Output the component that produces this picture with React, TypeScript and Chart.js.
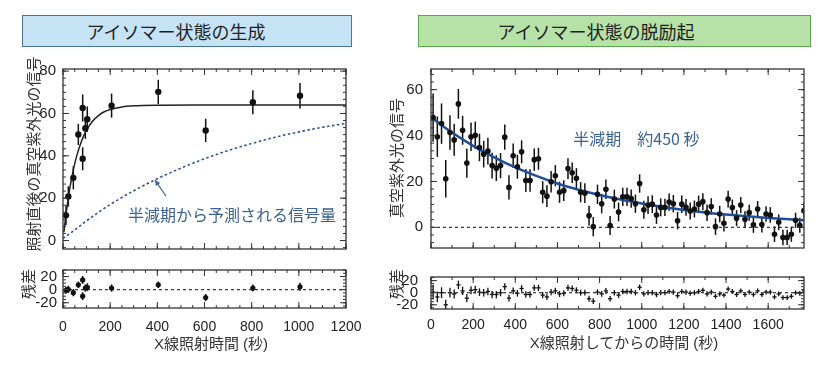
import React, { useEffect, useRef } from "react";
import { Chart, registerables } from "chart.js";

Chart.register(...registerables);

const FONT_NUM = "'Liberation Sans', Arial, sans-serif";
const FONT_JP = "'Noto Sans CJK JP', 'Noto Sans', sans-serif";

// ---------------- Left panel: growth (アイソマー状態の生成) ----------------
const growthTime = [12.7, 22.6, 43.8, 65, 83.4, 83.4, 94.7, 103, 206, 404, 605, 805, 1005];
const growthSignal = [11.9, 20.8, 29.6, 50.1, 62.6, 38.6, 53, 57.3, 63.7, 70.2, 52, 65.3, 68.4];
const growthErr = [4.6, 4.8, 5.4, 5.0, 6.4, 5.4, 5.0, 6.0, 5.7, 5.7, 5.5, 5.7, 6.0];
const growthResid = [-0.9, 0.5, -4.6, 7.4, 14.8, -9.9, 2.5, 3.7, 2.5, 7.4, -12, 2.5, 4.4];
const growthResidErr = [5.5, 5.5, 5.5, 5, 6, 6, 5.5, 6, 5.5, 5, 5.5, 5.5, 6];

const growthFitTime = [4, 10, 20, 30, 45, 60, 80, 100, 125, 150, 175, 200, 250, 300, 400, 600, 800, 1000, 1200];
const growthFitSignal = [4, 10, 18.3, 25.4, 34.1, 40.7, 47.4, 52.1, 56.3, 59, 60.8, 61.9, 63.1, 63.6, 63.9, 64, 64, 64, 64];

const halfLifeTime = [0, 50, 100, 150, 200, 300, 400, 500, 600, 700, 800, 900, 1000, 1100, 1200];
const halfLifeSignal = [1, 5, 9.3, 13.3, 17, 23.5, 29.2, 34.2, 38.6, 42.5, 45.8, 48.8, 51.3, 53.5, 55.3];

// ---------------- Right panel: decay (アイソマー状態の脱励起) ----------------
const decayTime = [
  10, 30, 50, 70, 90, 110, 130, 150, 170, 190,
  210, 230, 250, 270, 290, 310, 330, 350, 370, 390,
  410, 430, 450, 470, 490, 510, 530, 550, 570, 590,
  610, 630, 650, 670, 690, 710, 730, 750, 770, 790,
  810, 830, 850, 870, 890, 910, 930, 950, 970, 990,
  1010, 1030, 1050, 1070, 1090, 1110, 1130, 1150, 1170, 1190,
  1210, 1230, 1250, 1270, 1290, 1310, 1330, 1350, 1370, 1390,
  1410, 1430, 1450, 1470, 1490, 1510, 1530, 1550, 1570, 1590,
  1610, 1630, 1650, 1670, 1690, 1710, 1730, 1750, 1770,
];
const decaySignal = [
  47.8, 39.5, 45.2, 21.2, 41.3, 38.1, 53.8, 42.3, 28.0, 39.5,
  40.1, 34.8, 31.9, 33.2, 26.9, 25.8, 26.9, 39.3, 17.4, 31.2,
  26.4, 32.9, 20.4, 20.4, 29.5, 29.9, 15.3, 13.6, 19.9, 22.5,
  15.3, 16.0, 25.6, 23.8, 21.4, 15.3, 14.9, 5.1, 0.3, 14.4,
  10.3, 16.6, 0.8, 12.3, 6.7, 13.3, 13.3, 12.5, 10.3, 19.1,
  7.7, 9.7, 10.1, 5.4, 8.7, 8.7, 11.0, 10.3, 2.9, 10.1,
  8.7, 7.1, 8.0, 10.1, 11.2, 6.4, 9.1, 0.3, 5.8, 1.8,
  12.3, 8.6, 4.0, 9.7, 3.5, 6.4, 1.1, 8.0, 1.2, 5.8,
  5.4, -3.0, 2.2, -4.4, -4.4, -3.0, 3.1, 0.9, 7.3,
];
const decayErr = [
  10.5, 8.8, 8.8, 8.2, 7.5, 6.9, 6.5, 6.3, 6.4, 6.2,
  6.0, 6.0, 5.8, 5.8, 5.6, 5.6, 5.5, 5.5, 5.3, 5.3,
  5.2, 5.0, 5.0, 4.9, 4.9, 4.8, 4.8, 4.7, 4.7, 4.6,
  4.6, 4.5, 4.5, 4.5, 4.4, 4.4, 4.3, 4.3, 4.2, 4.2,
  4.2, 4.2, 4.1, 4.1, 4.1, 4.0, 4.0, 4.0, 4.0, 4.0,
  3.9, 3.9, 3.9, 3.9, 3.9, 3.8, 3.8, 3.8, 3.8, 3.8,
  3.7, 3.7, 3.7, 3.7, 3.7, 3.6, 3.6, 3.6, 3.6, 3.6,
  3.6, 3.5, 3.5, 3.5, 3.5, 3.5, 3.5, 3.5, 3.4, 3.4,
  3.4, 3.4, 3.4, 3.4, 3.3, 3.3, 3.3, 3.3, 3.3,
];
const decayResid = [
  1, -7, 0, -20, 0, -2, 13, 3, -9, 4,
  5, 1, 0, 2, -3, -3, 0, 10, -9, 3,
  -1, 7, -3, -3, 8, 8, -4, -7, 1, 3,
  -2, -1, 8, 7, 4, 0, 0, -10, -14, 1,
  -2, 3, -10, 0, -4, 2, 2, 2, 0, 9,
  -2, 0, 0, -3, 0, 0, 2, 1, -5, 2,
  1, -1, 0, 2, 4, -2, 1, -6, -2, -4,
  6, 2, -3, 3, -3, 1, -3, 3, -3, 1,
  1, -7, -2, -8, -8, -6, 0, -1, 3,
];
const decayResidErr = [
  12, 9, 9, 8.5, 8, 7.5, 7, 7, 6.8, 6.6,
  6.4, 6.3, 6.2, 6.1, 6, 6, 5.9, 5.8, 5.7, 5.6,
  5.5, 5.5, 5.4, 5.4, 5.3, 5.3, 5.2, 5.2, 5.1, 5.1,
  5, 5, 5, 4.9, 4.9, 4.9, 4.8, 4.8, 4.8, 4.7,
  4.7, 4.7, 4.6, 4.6, 4.6, 4.6, 4.5, 4.5, 4.5, 4.5,
  4.5, 4.4, 4.4, 4.4, 4.4, 4.4, 4.3, 4.3, 4.3, 4.3,
  4.3, 4.2, 4.2, 4.2, 4.2, 4.2, 4.2, 4.1, 4.1, 4.1,
  4.1, 4.1, 4.1, 4, 4, 4, 4, 4, 4, 4,
  4, 4, 3.9, 3.9, 3.9, 3.9, 3.9, 3.9, 3.9,
];
const decayBinHalfWidth = 10;

const decayFitTime = [0, 100, 200, 300, 400, 500, 600, 700, 800, 900, 1000, 1100, 1200, 1300, 1400, 1500, 1600, 1700, 1770];
const decayFitSignal = [48, 41.3, 35.5, 30.5, 26.1, 22.4, 19.1, 16.4, 14.1, 12.1, 10.4, 8.9, 7.6, 6.5, 5.6, 4.8, 4.1, 3.5, 3.1];

// axis ranges / tick labels
const growthXRange = [0, 1200];
const growthYRange = [-4, 81];
const growthResidRange = [-28, 30];
const decayXRange = [0, 1770];
const decayYRange = [-9, 69];
const decayResidRange = [-27, 26];
const growthXTicks = [0, 200, 400, 600, 800, 1000, 1200];
const decayXTicks = [0, 200, 400, 600, 800, 1000, 1200, 1400, 1600];
const growthYTicks = [0, 20, 40, 60, 80];
const decayYTicks = [0, 20, 40, 60];
const residTicks = [-20, 0, 20];

// annotations (data units)
const growthNoteText = "半減期から予測される信号量";
const growthNotePos = [276, 12.3];
const growthArrow = [437, 20.9, 390, 28.6];
const decayNoteText = "半減期　約450 秒";
const decayNotePos = [675, 38.4];

// ---------------- plugins ----------------
const errorBarPlugin = {
  id: "errorBars",
  beforeDatasetsDraw(chart: any) {
    const { ctx, chartArea: a } = chart;
    const xs = chart.scales.x;
    const ys = chart.scales.y;
    ctx.save();
    ctx.beginPath();
    ctx.rect(a.left, a.top, a.right - a.left, a.bottom - a.top);
    ctx.clip();
    chart.data.datasets.forEach((ds: any) => {
      if (!ds.errY && !ds.errX) return;
      ctx.strokeStyle = "#111";
      ctx.lineWidth = ds.errWidth || 1.5;
      ds.data.forEach((p: any, i: number) => {
        const px = xs.getPixelForValue(p.x);
        const py = ys.getPixelForValue(p.y);
        if (ds.errY) {
          const e = Array.isArray(ds.errY) ? ds.errY[i] : ds.errY;
          ctx.beginPath();
          ctx.moveTo(px, ys.getPixelForValue(p.y - e));
          ctx.lineTo(px, ys.getPixelForValue(p.y + e));
          ctx.stroke();
        }
        if (ds.errX) {
          const e = Array.isArray(ds.errX) ? ds.errX[i] : ds.errX;
          ctx.beginPath();
          ctx.moveTo(xs.getPixelForValue(p.x - e), py);
          ctx.lineTo(xs.getPixelForValue(p.x + e), py);
          ctx.stroke();
        }
      });
    });
    ctx.restore();
  },
};

function makeFramePlugin(xMajor: number, xMinor: number, yMajor: number, yMinor: number) {
  return {
    id: "frameTicks",
    afterDatasetsDraw(chart: any) {
      const { ctx, chartArea: a } = chart;
      const xs = chart.scales.x;
      const ys = chart.scales.y;
      const seg = (x1: number, y1: number, x2: number, y2: number) => {
        ctx.beginPath();
        ctx.moveTo(x1, y1);
        ctx.lineTo(x2, y2);
        ctx.stroke();
      };
      const vals = (min: number, max: number, step: number) => {
        const out: number[] = [];
        const n0 = Math.ceil(min / step - 1e-6);
        for (let n = n0; n * step <= max + 1e-6; n++) out.push(n * step);
        return out;
      };
      ctx.save();
      ctx.strokeStyle = "#333";
      ctx.lineWidth = 1;
      const defs: [number, number][] = [
        [xMinor, 3],
        [xMajor, 6],
      ];
      for (const [step, len] of defs) {
        for (const v of vals(xs.min, xs.max, step)) {
          const p = xs.getPixelForValue(v);
          seg(p, a.bottom, p, a.bottom - len);
          seg(p, a.top, p, a.top + len);
        }
      }
      const ydefs: [number, number][] = [
        [yMinor, 3],
        [yMajor, 6],
      ];
      for (const [step, len] of ydefs) {
        for (const v of vals(ys.min, ys.max, step)) {
          const p = ys.getPixelForValue(v);
          seg(a.left, p, a.left + len, p);
          seg(a.right, p, a.right - len, p);
        }
      }
      ctx.lineWidth = 1.3;
      ctx.strokeRect(a.left, a.top, a.right - a.left, a.bottom - a.top);
      ctx.restore();
    },
  };
}

function makeNotesPlugin(text: string, pos: number[], arrow: number[] | null, color: string) {
  return {
    id: "notes",
    afterDatasetsDraw(chart: any) {
      const { ctx } = chart;
      const xs = chart.scales.x;
      const ys = chart.scales.y;
      ctx.save();
      ctx.font = `16px ${FONT_JP}`;
      ctx.fillStyle = color;
      ctx.textAlign = "left";
      ctx.textBaseline = "middle";
      ctx.fillText(text, xs.getPixelForValue(pos[0]), ys.getPixelForValue(pos[1]));
      if (arrow) {
        const x1 = xs.getPixelForValue(arrow[0]);
        const y1 = ys.getPixelForValue(arrow[1]);
        const x2 = xs.getPixelForValue(arrow[2]);
        const y2 = ys.getPixelForValue(arrow[3]);
        ctx.strokeStyle = color;
        ctx.lineWidth = 1.2;
        ctx.beginPath();
        ctx.moveTo(x1, y1);
        ctx.lineTo(x2, y2);
        ctx.stroke();
        const ang = Math.atan2(y2 - y1, x2 - x1);
        const h = 6;
        ctx.beginPath();
        ctx.moveTo(x2, y2);
        ctx.lineTo(x2 - h * Math.cos(ang - 0.45), y2 - h * Math.sin(ang - 0.45));
        ctx.lineTo(x2 - h * Math.cos(ang + 0.45), y2 - h * Math.sin(ang + 0.45));
        ctx.closePath();
        ctx.fill();
      }
      ctx.restore();
    },
  };
}

// ---------------- helpers ----------------
function yScale(range: number[], tickVals: number[], pad: number, width: number, size: number) {
  return {
    type: "linear",
    position: "left",
    min: range[0],
    max: range[1],
    grid: { display: false, drawTicks: false },
    border: { display: false },
    afterBuildTicks: (s: any) => {
      s.ticks = tickVals.map((v) => ({ value: v }));
    },
    ticks: {
      autoSkip: false,
      padding: pad,
      color: "#222",
      font: { family: FONT_NUM, size },
      callback: (v: any) => String(v),
    },
    afterFit: (s: any) => {
      s.width = width;
    },
  };
}

function xScale(range: number[], tickVals: number[], show: boolean, pad: number, height: number) {
  return {
    type: "linear",
    position: "bottom",
    display: show,
    min: range[0],
    max: range[1],
    grid: { display: false, drawTicks: false },
    border: { display: false },
    afterBuildTicks: (s: any) => {
      s.ticks = tickVals.map((v) => ({ value: v }));
    },
    ticks: {
      autoSkip: false,
      maxRotation: 0,
      minRotation: 0,
      padding: pad,
      color: "#222",
      font: { family: FONT_NUM, size: 14 },
      callback: (v: any) => String(v),
    },
    afterFit: (s: any) => {
      s.height = height;
    },
  };
}

function pts(xs: number[], ys: number[]) {
  return xs.map((x, i) => ({ x, y: ys[i] }));
}

function zeroLine(range: number[]) {
  return {
    type: "line",
    data: [
      { x: range[0], y: 0 },
      { x: range[1], y: 0 },
    ],
    borderColor: "#333",
    borderWidth: 1.2,
    borderDash: [3, 3],
    pointRadius: 0,
  };
}

function build(canvas: HTMLCanvasElement, datasets: any[], scales: any, padding: any, plugins: any[]) {
  return new Chart(canvas, {
    type: "scatter",
    data: { datasets },
    options: {
      responsive: false,
      animation: false,
      events: [],
      layout: { padding },
      plugins: { legend: { display: false }, tooltip: { enabled: false } },
      scales,
    },
    plugins,
  } as any);
}

type Spec = { left: number; top: number; width: number; height: number; make: (c: HTMLCanvasElement) => Chart };

const specs: Spec[] = [
  {
    left: 0,
    top: 53,
    width: 356,
    height: 212,
    make: (c) =>
      build(
        c,
        [
          { type: "scatter", data: pts(growthTime, growthSignal), errY: growthErr, pointRadius: 3.2, backgroundColor: "#111", borderWidth: 0 },
          { type: "line", data: pts(growthFitTime, growthFitSignal), borderColor: "#222", borderWidth: 1.5, pointRadius: 0, cubicInterpolationMode: "monotone" },
          { type: "line", data: pts(halfLifeTime, halfLifeSignal), borderColor: "#2f5597", borderWidth: 1.6, borderDash: [2.5, 2.5], pointRadius: 0, cubicInterpolationMode: "monotone" },
        ],
        { x: xScale(growthXRange, growthXTicks, false, 0, 0), y: yScale(growthYRange, growthYTicks, 7, 63, 15) },
        { top: 10, right: 10, bottom: 4, left: 0 },
        [errorBarPlugin, makeFramePlugin(200, 50, 20, 20 / 6), makeNotesPlugin(growthNoteText, growthNotePos, growthArrow, "#3a6190")]
      ),
  },
  {
    left: 0,
    top: 255,
    width: 376,
    height: 85,
    make: (c) =>
      build(
        c,
        [
          { type: "scatter", data: pts(growthTime, growthResid), errY: growthResidErr, pointRadius: 2.6, backgroundColor: "#111", borderWidth: 0 },
          zeroLine(growthXRange),
        ],
        { x: xScale(growthXRange, growthXTicks, true, 11, 32), y: yScale(growthResidRange, residTicks, 6, 63, 15) },
        { top: 6, right: 30, bottom: 0, left: 0 },
        [errorBarPlugin, makeFramePlugin(200, 50, 20, 5)]
      ),
  },
  {
    left: 380,
    top: 52,
    width: 434,
    height: 213,
    make: (c) =>
      build(
        c,
        [
          { type: "scatter", data: pts(decayTime, decaySignal), errY: decayErr, pointRadius: 2.8, backgroundColor: "#111", borderWidth: 0 },
          { type: "line", data: pts(decayFitTime, decayFitSignal), borderColor: "#1f4e9a", borderWidth: 2.5, pointRadius: 0, cubicInterpolationMode: "monotone" },
          zeroLine(decayXRange),
        ],
        { x: xScale(decayXRange, decayXTicks, false, 0, 0), y: yScale(decayYRange, decayYTicks, 8, 51, 15) },
        { top: 10, right: 10, bottom: 4, left: 0 },
        [errorBarPlugin, makeFramePlugin(200, 100, 20, 20 / 6), makeNotesPlugin(decayNoteText, decayNotePos, null, "#3a6190")]
      ),
  },
  {
    left: 380,
    top: 255,
    width: 434,
    height: 85,
    make: (c) =>
      build(
        c,
        [
          { type: "scatter", data: pts(decayTime, decayResid), errY: decayResidErr, errX: decayBinHalfWidth, errWidth: 1.3, pointRadius: 0, borderWidth: 0 },
          zeroLine(decayXRange),
        ],
        { x: xScale(decayXRange, decayXTicks, true, 8, 31), y: yScale(decayResidRange, residTicks, 13, 51, 15) },
        { top: 6, right: 10, bottom: 0, left: 0 },
        [errorBarPlugin, makeFramePlugin(200, 100, 20, 5)]
      ),
  },
];

function ChartBox({ spec }: { spec: Spec }) {
  const ref = useRef<HTMLCanvasElement>(null);
  useEffect(() => {
    const chart = spec.make(ref.current as HTMLCanvasElement);
    return () => chart.destroy();
  }, []);
  return (
    <canvas
      ref={ref}
      width={spec.width}
      height={spec.height}
      style={{ position: "absolute", left: spec.left, top: spec.top, width: spec.width, height: spec.height }}
    />
  );
}

function VText({ x, y, text }: { x: number; y: number; text: string }) {
  return (
    <div
      style={{
        position: "absolute",
        left: x,
        top: y,
        transform: "translate(-50%, -50%) rotate(-90deg)",
        whiteSpace: "nowrap",
        font: `15px ${FONT_JP}`,
        lineHeight: "15px",
        color: "#333",
        zIndex: 2,
      }}
    >
      {text}
    </div>
  );
}

function HText({ x, y, text }: { x: number; y: number; text: string }) {
  return (
    <div
      style={{
        position: "absolute",
        left: x,
        top: y,
        transform: "translate(-50%, -50%)",
        whiteSpace: "nowrap",
        fontFamily: `'Liberation Sans', 'Noto Sans CJK JP', sans-serif`,
        fontSize: 15,
        lineHeight: "15px",
        color: "#333",
        zIndex: 2,
      }}
    >
      {text}
    </div>
  );
}

function TitleBox({ left, width, bg, border, shift, text }: any) {
  return (
    <div
      style={{
        position: "absolute",
        left,
        top: 15,
        width,
        height: 32,
        boxSizing: "border-box",
        background: bg,
        border: `1.5px solid ${border}`,
        display: "flex",
        alignItems: "center",
        justifyContent: "center",
        paddingRight: shift,
        font: `18px ${FONT_JP}`,
        color: "#1e1e1e",
      }}
    >
      {text}
    </div>
  );
}

export default function App() {
  return (
    <div style={{ position: "absolute", left: 0, top: 0, width: 826, height: 375, background: "#fff", overflow: "hidden" }}>
      <TitleBox left={22} width={330} bg="#c6e3f6" border="#46749f" shift={22} text="アイソマー状態の生成" />
      <TitleBox left={418} width={393} bg="#b6e1a7" border="#5aa64c" shift={37} text="アイソマー状態の脱励起" />
      {specs.map((s, i) => (
        <ChartBox key={i} spec={s} />
      ))}
      <VText x={32} y={154} text="照射直後の真空紫外光の信号" />
      <VText x={27} y={284} text="残差" />
      <VText x={395} y={158} text="真空紫外光の信号" />
      <VText x={395} y={284} text="残差" />
      <HText x={211} y={343} text="X線照射時間 (秒)" />
      <HText x={624} y={342} text="X線照射してからの時間 (秒)" />
    </div>
  );
}
